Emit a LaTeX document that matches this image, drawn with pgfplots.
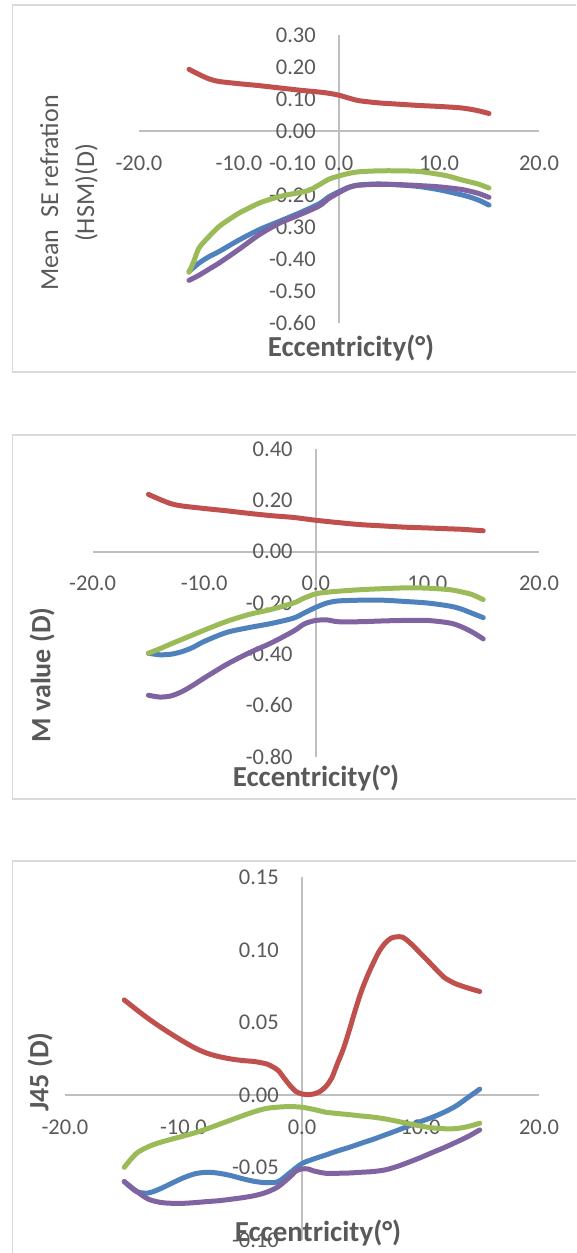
\documentclass[border=0pt]{standalone}
\usepackage{fontspec}
\setmainfont{Carlito}
\usepackage{pgfplots}
\pgfplotsset{compat=1.18}
\definecolor{sblue}{HTML}{4F81BD}
\definecolor{sred}{HTML}{C0504D}
\definecolor{sgreen}{HTML}{9BBB59}
\definecolor{spurple}{HTML}{8064A2}
\definecolor{txt}{HTML}{595959}
\definecolor{axgray}{HTML}{BFBFBF}
\definecolor{framegray}{HTML}{D9D9D9}
\pgfplotsset{
  common/.style={
    scale only axis,
    axis lines*=middle,
    axis line style={axgray, line width=1.5pt},
    xmin=-20, xmax=20,
    xtick={-20,-10,0,10,20},
    xticklabels={-20.0,-10.0,0.0,10.0,20.0},
    hide obscured x ticks=false,
    hide obscured y ticks=false,
    major tick length=0pt,
    tick style={draw=none},
    ticklabel style={font=\fontsize{22.5}{27}\selectfont, text=txt, inner sep=0pt},
    xticklabel style={anchor=center, yshift=-32pt},
    yticklabel style={anchor=east, xshift=-23pt},
    every axis plot/.append style={line width=5pt, line cap=round, line join=round, smooth, tension=0.5},
    clip=false,
  }
}
\begin{document}
\begin{tikzpicture}
\useasboundingbox (0pt,0pt) rectangle (576pt,-1253pt);
\clip (0pt,0pt) rectangle (576pt,-1253pt);
\draw[framegray, line width=1.5pt] (12.7pt,-5pt) rectangle (640pt,-372pt);
\draw[framegray, line width=1.5pt] (12.7pt,-435pt) rectangle (640pt,-799pt);
\draw[framegray, line width=1.5pt] (12.7pt,-861pt) rectangle (640pt,-1300pt);

% Panel 1
\begin{axis}[common, at={(139pt,-323.3pt)}, anchor=south west, width=400pt, height=288.3pt,
  ymin=-0.6, ymax=0.3,
  ytick={-0.6,-0.5,-0.4,-0.3,-0.2,-0.1,0,0.1,0.2,0.3},
  yticklabels={-0.60,-0.50,-0.40,-0.30,-0.20,-0.10,0.00,0.10,0.20,0.30}]
\addplot[sblue] coordinates {(-15,-0.438) (-14,-0.412) (-13,-0.392) (-12,-0.376) (-10,-0.340) (-8,-0.308) (-6,-0.282) (-4,-0.256) (-2,-0.227) (-1,-0.205) (0,-0.189) (1,-0.175) (2,-0.168) (4,-0.165) (6,-0.168) (8,-0.173) (10,-0.183) (12,-0.197) (13,-0.205) (14,-0.216) (15,-0.231)};
\addplot[sred] coordinates {(-15,0.193) (-14,0.177) (-13,0.163) (-12,0.155) (-10,0.148) (-8,0.142) (-6,0.135) (-4,0.128) (-2,0.122) (-1,0.118) (0,0.112) (1,0.103) (2,0.095) (4,0.088) (6,0.084) (8,0.080) (10,0.077) (12,0.073) (13,0.069) (14,0.063) (15,0.055)};
\addplot[sgreen] coordinates {(-15,-0.441) (-14.5,-0.405) (-14,-0.365) (-13,-0.329) (-12,-0.298) (-11,-0.276) (-10,-0.256) (-9,-0.240) (-8,-0.225) (-7,-0.214) (-6,-0.205) (-5,-0.198) (-4,-0.192) (-3,-0.185) (-2,-0.168) (-1,-0.150) (0,-0.140) (1,-0.132) (2,-0.127) (4,-0.124) (6,-0.124) (8,-0.126) (10,-0.135) (11,-0.141) (12,-0.150) (13,-0.158) (14,-0.166) (15,-0.178)};
\addplot[spurple] coordinates {(-15,-0.466) (-14,-0.450) (-13,-0.431) (-12,-0.412) (-10,-0.369) (-8,-0.324) (-6,-0.288) (-4,-0.262) (-2,-0.234) (-1,-0.210) (0,-0.192) (1,-0.176) (2,-0.169) (4,-0.166) (6,-0.167) (8,-0.170) (10,-0.174) (12,-0.181) (13,-0.187) (14,-0.195) (15,-0.207)};
\end{axis}

% Panel 2
\begin{axis}[common, at={(92.6pt,-756.7pt)}, anchor=south west, width=446.4pt, height=307.4pt,
  ymin=-0.8, ymax=0.4,
  ytick={-0.8,-0.6,-0.4,-0.2,0,0.2,0.4},
  yticklabels={-0.80,-0.60,-0.40,-0.20,0.00,0.20,0.40}]
\addplot[sblue] coordinates {(-15,-0.396) (-14,-0.402) (-13,-0.400) (-12,-0.390) (-11,-0.373) (-10,-0.350) (-8,-0.315) (-6,-0.296) (-4,-0.280) (-2,-0.259) (-1,-0.238) (0,-0.217) (1,-0.200) (2,-0.192) (4,-0.189) (6,-0.189) (8,-0.194) (10,-0.200) (12,-0.212) (13,-0.223) (14,-0.240) (15,-0.257)};
\addplot[sred] coordinates {(-15,0.224) (-14,0.205) (-13,0.188) (-12,0.179) (-10,0.169) (-8,0.160) (-6,0.150) (-4,0.141) (-2,0.134) (0,0.123) (2,0.114) (4,0.106) (6,0.101) (8,0.096) (10,0.093) (12,0.0895) (13,0.088) (14,0.085) (15,0.082)};
\addplot[sgreen] coordinates {(-15,-0.396) (-14,-0.379) (-13,-0.360) (-12,-0.342) (-11,-0.324) (-10,-0.306) (-8,-0.272) (-6,-0.245) (-4,-0.225) (-2,-0.200) (-1,-0.180) (0,-0.164) (1,-0.158) (2,-0.154) (4,-0.148) (6,-0.144) (8,-0.141) (10,-0.142) (12,-0.148) (13,-0.156) (14,-0.167) (15,-0.187)};
\addplot[spurple] coordinates {(-15,-0.560) (-14,-0.567) (-13,-0.563) (-12,-0.546) (-11,-0.521) (-10,-0.493) (-8,-0.440) (-6,-0.395) (-4,-0.356) (-2,-0.310) (-1,-0.281) (0,-0.268) (1,-0.266) (2,-0.273) (4,-0.273) (6,-0.270) (8,-0.268) (10,-0.268) (12,-0.278) (13,-0.292) (14,-0.313) (15,-0.340)};
\end{axis}

% Panel 3
\begin{axis}[common, at={(65pt,-1240pt)}, anchor=south west, width=474pt, height=362.7pt,
  ymin=-0.1, ymax=0.15,
  ytick={-0.1,-0.05,0,0.05,0.1,0.15},
  yticklabels={-0.10,-0.05,0.00,0.05,0.10,0.15}]
\addplot[sblue] coordinates {(-15,-0.0597) (-14,-0.0664) (-13,-0.0676) (-12,-0.0648) (-11,-0.0609) (-10,-0.0571) (-9,-0.0543) (-8,-0.0533) (-7,-0.0540) (-6,-0.0556) (-5,-0.0578) (-4,-0.0596) (-3,-0.0605) (-2,-0.0597) (-1,-0.0535) (0,-0.0473) (1,-0.0441) (2,-0.0414) (3,-0.0386) (4,-0.0361) (5,-0.0333) (6,-0.0306) (7,-0.0276) (8,-0.0246) (9,-0.0214) (10,-0.0184) (11,-0.0154) (12,-0.0119) (13,-0.0076) (14,-0.0018) (15,0.0040)};
\addplot[sred] coordinates {(-15,0.0655) (-14,0.0590) (-13,0.0528) (-12,0.0471) (-11,0.0418) (-10,0.0368) (-9,0.0322) (-8,0.0287) (-7,0.0264) (-6,0.0248) (-5,0.0237) (-4,0.0230) (-3,0.0214) (-2.5,0.0195) (-2,0.0168) (-1.5,0.0115) (-1,0.0064) (-0.5,0.0023) (0,0.0007) (0.5,0.0002) (1,0.0007) (1.5,0.0023) (2,0.0057) (2.5,0.0115) (3,0.0218) (3.5,0.0320) (4,0.0448) (4.5,0.0586) (5,0.0712) (5.5,0.0816) (6,0.0907) (6.5,0.0988) (7,0.1045) (7.5,0.1080) (8,0.1090) (8.5,0.1087) (9,0.1057) (9.5,0.1018) (10,0.0976) (10.5,0.0935) (11,0.0892) (11.5,0.0850) (12,0.0810) (12.5,0.0785) (13,0.0765) (14,0.0737) (15,0.0713)};
\addplot[sgreen] coordinates {(-15,-0.0499) (-14,-0.0405) (-13,-0.0358) (-12,-0.0328) (-11,-0.0305) (-10,-0.0283) (-9,-0.0260) (-8,-0.0233) (-7,-0.0203) (-6,-0.0173) (-5,-0.0143) (-4,-0.0115) (-3,-0.0093) (-2,-0.0084) (-1,-0.0080) (0,-0.0085) (1,-0.0100) (2,-0.0119) (3,-0.0128) (4,-0.0136) (5,-0.0145) (6,-0.0153) (7,-0.0165) (8,-0.0181) (9,-0.0198) (10,-0.0214) (11,-0.0227) (12,-0.0233) (13,-0.0232) (14,-0.0218) (15,-0.0195)};
\addplot[spurple] coordinates {(-15,-0.0597) (-14,-0.0662) (-13,-0.0717) (-12,-0.0740) (-11,-0.0747) (-10,-0.0747) (-9,-0.0742) (-8,-0.0735) (-7,-0.0729) (-6,-0.0719) (-5,-0.0708) (-4,-0.0694) (-3,-0.0671) (-2,-0.0632) (-1,-0.0563) (-0.5,-0.0524) (0,-0.0510) (0.5,-0.0510) (1,-0.0524) (2,-0.0540) (3,-0.0540) (4,-0.0538) (5,-0.0533) (6,-0.0528) (7,-0.0517) (8,-0.0494) (9,-0.0464) (10,-0.0432) (11,-0.0397) (12,-0.0363) (13,-0.0326) (14,-0.0287) (15,-0.0241)};
\end{axis}

% Titles
\node[rotate=90, align=center, font=\fontsize{26}{36}\selectfont, text=txt] at (69pt,-193pt) {Mean\ \ SE refration\\(HSM)(D)};
\node[anchor=base, font=\bfseries\fontsize{29}{34}\selectfont, text=txt] at (351pt,-356pt) {Eccentricity(°)};
\node[rotate=90, font=\bfseries\fontsize{28}{34}\selectfont, text=txt] at (42pt,-675pt) {M value (D)};
\node[anchor=base, font=\bfseries\fontsize{29}{34}\selectfont, text=txt] at (316pt,-786.7pt) {Eccentricity(°)};
\node[rotate=90, font=\bfseries\fontsize{28}{34}\selectfont, text=txt] at (40pt,-1072pt) {J45 (D)};
\node[anchor=base, font=\bfseries\fontsize{29}{34}\selectfont, text=txt] at (318pt,-1241.7pt) {Eccentricity(°)};
\end{tikzpicture}
\end{document}
